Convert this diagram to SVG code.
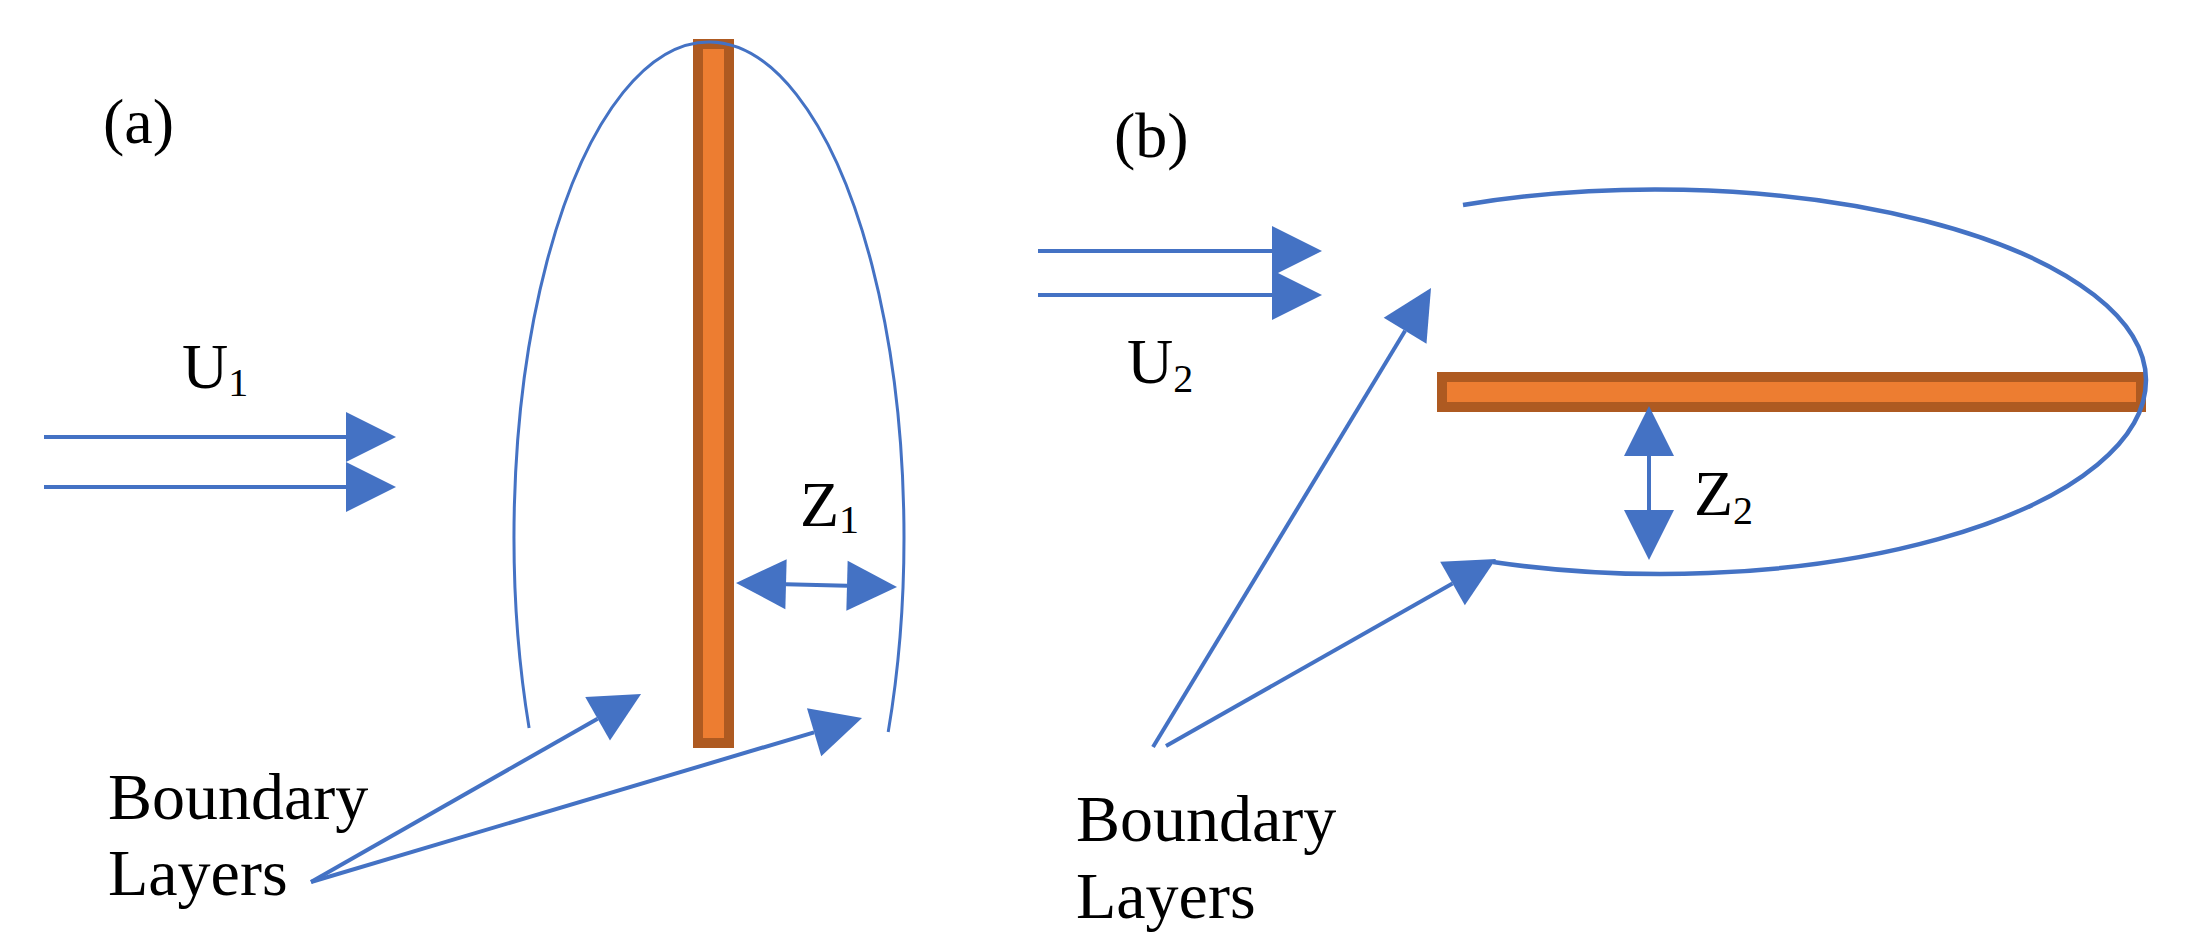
<svg xmlns="http://www.w3.org/2000/svg" width="2191" height="939" viewBox="0 0 2191 939">
<style>
.t{font-family:"Liberation Serif","Times New Roman",serif;fill:#000}
.lbl{font-size:64px}
.bl{font-size:66px}
.sub{font-size:40px}
.plate{fill:#ED7D31;stroke:#AE5A21;stroke-width:10}
.layer{fill:none;stroke:#4472C4}
.arr{fill:none;stroke:#4472C4;stroke-width:4;marker-end:url(#ah)}
.dbl{fill:none;stroke:#4472C4;stroke-width:4;marker-start:url(#ah);marker-end:url(#ah)}
</style>
<defs>
<marker id="ah" markerUnits="userSpaceOnUse" markerWidth="50" markerHeight="50" refX="0" refY="25" orient="auto-start-reverse" overflow="visible">
<path d="M0,0 L50,25 L0,50 Z" fill="#4472C4"/>
</marker>
</defs>
<rect width="2191" height="939" fill="#fff"/>

<g id="plate-a"><rect class="plate" x="698" y="44" width="31" height="699"/></g>
<g id="plate-b"><rect class="plate" x="1442" y="377" width="699" height="30"/></g>

<g id="boundary-layer-a"><path class="layer" stroke-width="3" d="M529.1,728 A195,495 0 1 1 888.2,732"/></g>
<g id="boundary-layer-b"><path class="layer" stroke-width="4.5" d="M1463,205 A490,191 0 0 1 2146,380 A485,194 0 0 1 1493,562"/></g>

<g id="connectors">
<line class="arr" x1="44" y1="437" x2="346" y2="437"/>
<line class="arr" x1="44" y1="487" x2="346" y2="487"/>
<line class="dbl" x1="786" y1="584.2" x2="847" y2="585.8"/>
<line class="arr" x1="311" y1="882" x2="597.6" y2="718.7"/>
<line class="arr" x1="311" y1="882" x2="814.1" y2="732.3"/>
<line class="arr" x1="1038" y1="251" x2="1272" y2="251"/>
<line class="arr" x1="1038" y1="295" x2="1272" y2="295"/>
<line class="dbl" x1="1649" y1="456" x2="1649" y2="510"/>
<line class="arr" stroke-width="3" x1="1153" y1="747" x2="1405.1" y2="330.8"/>
<line class="arr" x1="1166" y1="746" x2="1452.5" y2="583.6"/>
</g>

<g id="label-a"><text class="t lbl" x="103" y="143">(a)</text></g>
<g id="label-b"><text class="t lbl" x="1114" y="157">(b)</text></g>
<g id="label-u1"><text class="t lbl" x="182" y="388">U<tspan class="sub" dy="8">1</tspan></text></g>
<g id="label-z1"><text class="t lbl" x="800" y="526">Z<tspan class="sub" dy="7">1</tspan></text></g>
<g id="label-u2"><text class="t lbl" x="1127" y="383">U<tspan class="sub" dy="9">2</tspan></text></g>
<g id="label-z2"><text class="t lbl" x="1694" y="515">Z<tspan class="sub" dy="9">2</tspan></text></g>
<g id="text-bl-a"><text class="t bl" x="108" y="819">Boundary</text><text class="t bl" x="108" y="895">Layers</text></g>
<g id="text-bl-b"><text class="t bl" x="1076" y="841">Boundary</text><text class="t bl" x="1076" y="918">Layers</text></g>
</svg>
